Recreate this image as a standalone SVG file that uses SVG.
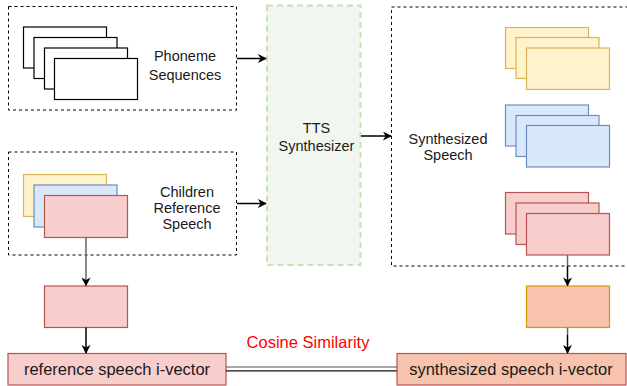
<svg xmlns="http://www.w3.org/2000/svg" width="627" height="386" viewBox="0 0 627 386">
<defs>
<marker id="arr" viewBox="0 0 10 10" refX="9" refY="5" markerWidth="9" markerHeight="9" markerUnits="userSpaceOnUse" orient="auto">
<path d="M0,0 L10,5 L0,10 L3,5 Z" fill="#000"/>
</marker>
</defs>
<style>
.grp{fill:none;stroke:#000;stroke-width:1;stroke-dasharray:3 3}
.w{fill:#fff;stroke:#000;stroke-width:1.2}
.y{fill:#fff2cc;stroke:#d6b656;stroke-width:1.2}
.b{fill:#dae8fc;stroke:#6c8ebf;stroke-width:1.2}
.r{fill:#f8cecc;stroke:#b85450;stroke-width:1.2}
.o{fill:#f7c3ad;stroke:#d79b00;stroke-width:1.2}
.s{fill:#f7c3ad;stroke:#b85450;stroke-width:1.2}
.t{font-family:"Liberation Sans",Arial,Helvetica,sans-serif;font-size:14.5px;fill:#1a1a1a;text-anchor:middle}
.tl{font-family:"Liberation Sans",Arial,Helvetica,sans-serif;font-size:16.5px;fill:#1a1a1a;text-anchor:middle}
.c{stroke:#000;stroke-width:1.5;fill:none}
.cg{stroke:#666;stroke-width:1.5;fill:none}
</style>

<g id="phoneme-group">
<rect class="grp" x="8.5" y="6.5" width="228" height="103.5"/>
<rect class="w" x="23.5" y="27" width="83" height="41"/>
<rect class="w" x="34" y="37.5" width="83" height="41"/>
<rect class="w" x="44.5" y="48" width="83" height="41"/>
<rect class="w" x="54.5" y="58.5" width="83" height="41"/>
<text class="t" x="185" y="61">Phoneme</text>
<text class="t" x="185" y="80">Sequences</text>
</g>

<g id="children-group">
<rect class="grp" x="8.5" y="152" width="228" height="103"/>
<rect class="y" x="23.5" y="174.5" width="83" height="42"/>
<rect class="b" x="34" y="185" width="83" height="42"/>
<rect class="r" x="44.5" y="195.5" width="83" height="42"/>
<text class="t" x="187" y="197">Children</text>
<text class="t" x="187" y="213">Reference</text>
<text class="t" x="187" y="229">Speech</text>
</g>

<g id="tts">
<rect x="267" y="5.5" width="93.5" height="259.5" fill="#f1f7ee" stroke="#c9e0bd" stroke-width="2" stroke-dasharray="6 4"/>
<text class="t" x="316.5" y="133">TTS</text>
<text class="t" x="316.5" y="151">Synthesizer</text>
</g>

<g id="synth-group">
<rect class="grp" x="391.5" y="7" width="245" height="259"/>
<rect class="y" x="505.5" y="27.5" width="83" height="41"/>
<rect class="y" x="516" y="37.5" width="83" height="41"/>
<rect class="y" x="526.5" y="48" width="83" height="41.5"/>
<rect class="b" x="505.5" y="105" width="83" height="41"/>
<rect class="b" x="516" y="115.5" width="83" height="41"/>
<rect class="b" x="526.5" y="125.5" width="83" height="41.5"/>
<rect class="r" x="505.5" y="192.5" width="83" height="41.5"/>
<rect class="r" x="516" y="203" width="83" height="41.5"/>
<rect class="r" x="526.5" y="213.5" width="83" height="41.5"/>
<text class="t" x="448" y="144">Synthesized</text>
<text class="t" x="448" y="160">Speech</text>
</g>

<g id="ref-embed">
<rect class="r" x="44.5" y="286" width="83" height="41.5"/>
</g>
<g id="synth-embed">
<rect class="o" x="526.5" y="286" width="83" height="41.5"/>
</g>

<g id="ref-ivector">
<rect class="r" x="8" y="353.5" width="218" height="31.5"/>
<text class="tl" x="117" y="375">reference speech i-vector</text>
</g>
<g id="synth-ivector">
<rect class="s" x="397" y="353.5" width="229" height="31.5"/>
<text class="tl" x="511" y="375">synthesized speech i-vector</text>
</g>

<g id="connectors">
<path class="c" d="M237,58.5 L266,58.5" marker-end="url(#arr)"/>
<path class="c" d="M237,203.5 L266,203.5" marker-end="url(#arr)"/>
<path class="c" d="M361,136 L391,136" marker-end="url(#arr)"/>
<path class="cg" d="M86,237.5 L86,285.5" marker-end="url(#arr)"/>
<path class="cg" d="M567.5,255 L567.5,266"/>
<path class="c" d="M567.5,266 L567.5,285.5" marker-end="url(#arr)"/>
<path class="c" d="M86,327.5 L86,353" marker-end="url(#arr)"/>
<path class="cg" d="M567.5,327.5 L567.5,335"/>
<path class="c" d="M567.5,335 L567.5,353" marker-end="url(#arr)"/>
<line x1="226" y1="367" x2="397" y2="367" stroke="#555" stroke-width="1.2"/>
<line x1="226" y1="370.8" x2="397" y2="370.8" stroke="#111" stroke-width="1.2"/>
<text x="308" y="348" font-family="'Liberation Sans',Arial,Helvetica,sans-serif" font-size="16.5px" fill="#ff0000" text-anchor="middle">Cosine Similarity</text>
</g>
</svg>
